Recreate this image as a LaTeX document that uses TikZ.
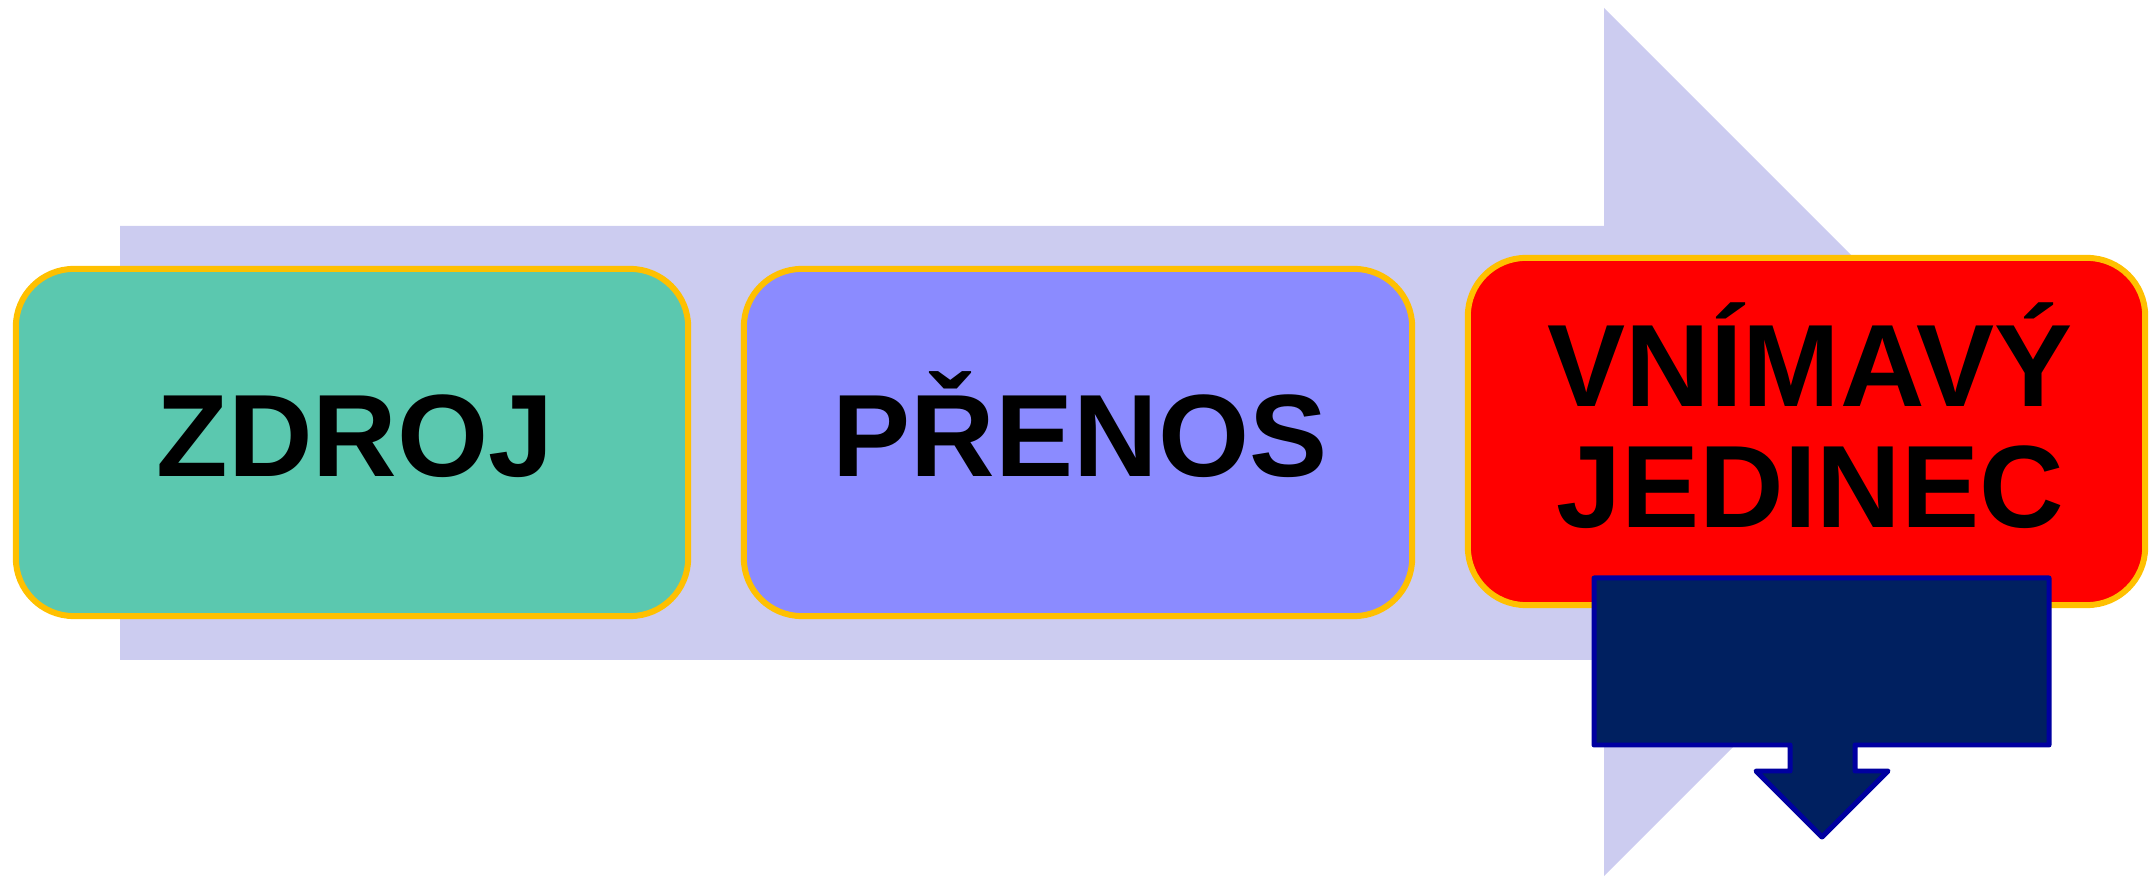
\documentclass[tikz,border=0pt]{standalone}
\usepackage{fontspec}
\setmainfont{Liberation Sans}
\definecolor{lav}{RGB}{204,204,240}
\definecolor{tealbox}{RGB}{91,200,175}
\definecolor{bluebox}{RGB}{139,139,255}
\definecolor{redbox}{RGB}{255,0,0}
\definecolor{gold}{RGB}{255,192,0}
\definecolor{navy}{RGB}{0,32,96}
\definecolor{navyline}{RGB}{0,0,160}
\tikzset{
  procbox/.style={draw=gold, line width=1.7pt, rounded corners=0.58cm, inner sep=0pt, outer sep=0pt},
  lbl/.style={font=\bfseries\fontsize{33.3}{34.4}\selectfont, text=black, inner sep=0pt, align=center},
  callout/.style={draw=navyline, fill=navy, line width=1.42pt, line join=round}
}
\begin{document}
\begin{tikzpicture}[x=0.01cm, y=-0.01cm]
\useasboundingbox (0,0) rectangle (2155,877);
% big background arrow
\fill[lav] (120,226) -- (1604,226) -- (1604,8) -- (2038,442) -- (1604,876) -- (1604,660) -- (120,660) -- cycle;
% boxes
\node[procbox, fill=tealbox, minimum width=6.72cm, minimum height=3.47cm] (zdroj) at (352,442.5) {};
\node[procbox, fill=bluebox, minimum width=6.68cm, minimum height=3.47cm] (prenos) at (1078,442.5) {};
\node[procbox, fill=redbox, minimum width=6.77cm, minimum height=3.47cm] (jedinec) at (1806.5,431.5) {};
% labels
\node[lbl, anchor=base] (tzdroj) at (355,477) {ZDROJ};
\node[lbl, anchor=base] (tprenos) at (1080,477) {PŘENOS};
\node[lbl, anchor=base] (tjed1) at (1810,407) {VNÍMAVÝ};
\node[lbl, anchor=base] (tjed2) at (1810,528) {JEDINEC};
% down arrow callout
\draw[callout] (1594,578) -- (2049,578) -- (2049,745) -- (1855,745) -- (1855,771) -- (1888,771)
  -- (1822,837) -- (1756,771) -- (1790,771) -- (1790,745) -- (1594,745) -- cycle;
\end{tikzpicture}
\end{document}
